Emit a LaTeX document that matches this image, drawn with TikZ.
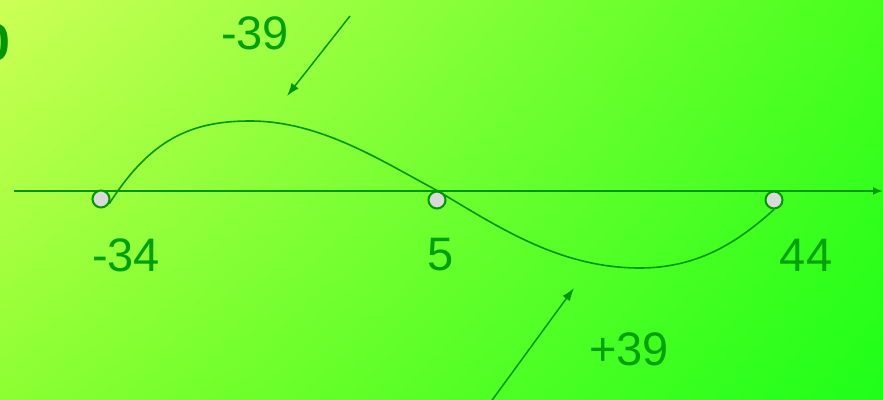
\documentclass[tikz,border=0pt]{standalone}
\usepackage{fontspec}
\setmainfont{Liberation Sans}
\usetikzlibrary{arrows.meta, shadings}

\definecolor{linegreen}{RGB}{0,150,0}
\definecolor{textgreen}{RGB}{0,160,0}
\definecolor{bgUL}{RGB}{205,255,85}
\definecolor{bgUR}{RGB}{70,255,30}
\definecolor{bgLL}{RGB}{140,255,50}
\definecolor{bgLR}{RGB}{30,255,25}

\begin{document}
\begin{tikzpicture}[
        x=1pt, y=-1pt,
        numlabel/.style = {text=textgreen, inner sep=0pt, font=\fontsize{47}{50}\selectfont},
        rootdot/.style = {circle, draw=linegreen, line width=2pt, fill=gray!30, minimum size=17pt, inner sep=0pt},
        axisline/.style = {draw=linegreen, line width=2pt, -{Latex[length=10pt,width=8pt]}},
        pointer/.style = {draw=linegreen, line width=1.5pt, -{Latex[length=13pt,width=9pt]}}
    ]
    % background
    \useasboundingbox (0,0) rectangle (883,399);
    \clip (0,0) rectangle (883,399);
    \shade[upper left=bgUL, upper right=bgUR, lower left=bgLL, lower right=bgLR]
        (0,0) rectangle (883,399);
    \node[anchor=east, inner sep=0pt, text=linegreen, font=\fontsize{52}{54}\selectfont\bfseries] (cutglyph) at (11,43) {0};

    % axis
    \coordinate (axisL) at (14,191);
    \coordinate (axisR) at (883,191);
    \draw[axisline] (axisL) -- (axisR);

    % roots
    \node[rootdot] (dotA) at (101,199) {};
    \node[rootdot] (dotB) at (437,200) {};
    \node[rootdot] (dotC) at (774,200) {};

    % curve
    \coordinate (peak) at (250,121);
    \coordinate (trough) at (640,268);
    \draw[linegreen, line width=1.6pt] (dotA.-30) .. controls (150,140) and (190,121) .. (peak)
        .. controls (320,121) and (380,160) .. (dotB.north)
        .. controls (500,228) and (560,268) .. (trough)
        .. controls (700,268) and (740,240) .. (dotC.south);

    % labels
    \node[numlabel] (lblA) at (126,255) {-34};
    \node[numlabel] (lblB) at (441,255) {5};
    \node[numlabel] (lblC) at (806,255) {44};
    \node[numlabel] (lblMax) at (255,33) {-39};
    \node[numlabel] (lblMin) at (629,349) {+39};

    % pointers
    \coordinate (tailTop) at (350,16);
    \coordinate (tipTop) at (287,96);
    \coordinate (tailBot) at (490,403);
    \coordinate (tipBot) at (574,288);
    \draw[pointer] (tailTop) -- (tipTop);
    \draw[pointer] (tailBot) -- (tipBot);
\end{tikzpicture}
\end{document}
